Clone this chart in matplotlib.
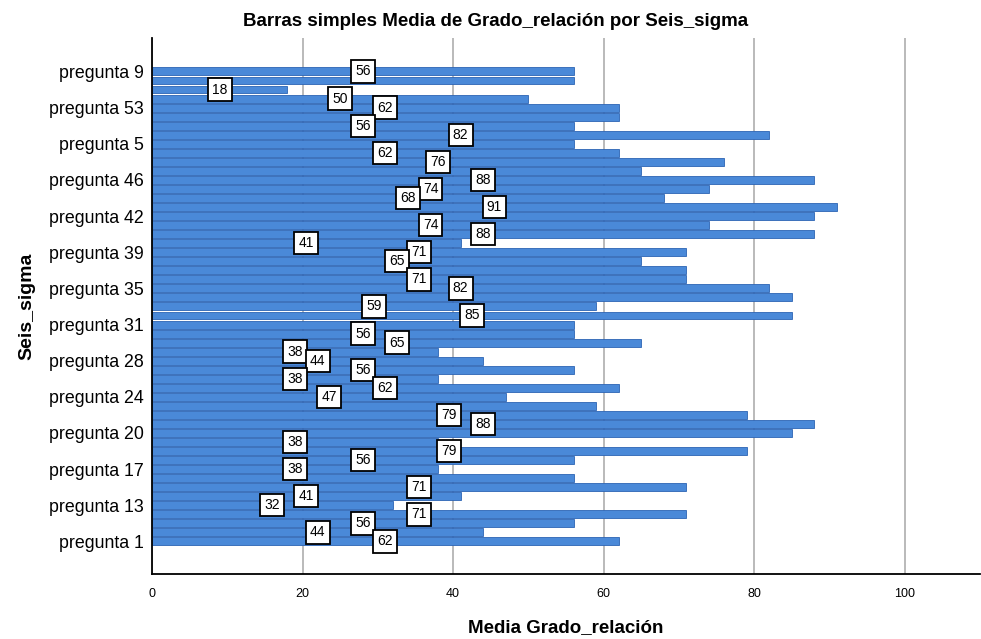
import matplotlib
matplotlib.use("Agg")
import matplotlib.pyplot as plt

plt.rcParams['font.family'] = ['Liberation Sans', 'DejaVu Sans']

# categorias de arriba hacia abajo (orden alfabetico de SPSS)
categorias = ["pregunta 9", "pregunta 8", "pregunta 7", "pregunta 6",
              "pregunta 53", "pregunta 52", "pregunta 51", "pregunta 50",
              "pregunta 5", "pregunta 49", "pregunta 48", "pregunta 47",
              "pregunta 46", "pregunta 45", "pregunta 44", "pregunta 43",
              "pregunta 42", "pregunta 41", "pregunta 40", "pregunta 4",
              "pregunta 39", "pregunta 38", "pregunta 37", "pregunta 36",
              "pregunta 35", "pregunta 34", "pregunta 33", "pregunta 32",
              "pregunta 31", "pregunta 30", "pregunta 3", "pregunta 29",
              "pregunta 28", "pregunta 27", "pregunta 26", "pregunta 25",
              "pregunta 24", "pregunta 23", "pregunta 22", "pregunta 21",
              "pregunta 20", "pregunta 2", "pregunta 19", "pregunta 18",
              "pregunta 17", "pregunta 16", "pregunta 15", "pregunta 14",
              "pregunta 13", "pregunta 12", "pregunta 11", "pregunta 10",
              "pregunta 1"]

medias = [56, 56, 18, 50, 62, 62, 56, 82, 56, 62, 76, 65, 88, 74, 68, 91,
          88, 74, 88, 41, 71, 65, 71, 71, 82, 85, 59, 85, 56, 56, 65, 38,
          44, 56, 38, 62, 47, 59, 79, 88, 85, 38, 79, 56, 38, 56, 71, 41,
          32, 71, 56, 44, 62]

# solo se rotula una de cada cuatro categorias en el eje
etiquetas_eje = ["pregunta 9", "pregunta 53", "pregunta 5", "pregunta 46",
                 "pregunta 42", "pregunta 39", "pregunta 35", "pregunta 31",
                 "pregunta 28", "pregunta 24", "pregunta 20", "pregunta 17",
                 "pregunta 13", "pregunta 1"]

x_ticks = [0, 20, 40, 60, 80, 100]

n = len(categorias)
pos = [n - 1 - i for i in range(n)]

fig = plt.figure(figsize=(9.81, 6.39), dpi=100)
ax = fig.add_axes([152 / 981, 1 - 574 / 639, 828 / 981, (574 - 38) / 639])

ax.barh(pos, medias, height=0.88, color='#4a89d8', edgecolor='#2c64b4',
        linewidth=0.6, zorder=2)

# etiquetas de valor en el centro de la barra, ocultando las que se solapan
mostradas = []
for p, v in zip(pos, medias):
    xc = v / 2
    choca = any(abs(xc - mx) < 2.5 and abs(p - mp) < 2.5 for mx, mp in mostradas)
    if choca:
        continue
    mostradas.append((xc, p))
    ax.text(xc, p, f"{v}", ha='center', va='center', fontsize=10, zorder=4,
            bbox=dict(boxstyle='square,pad=0.3', facecolor='white',
                      edgecolor='black', linewidth=1.3))

ax.set_xlim(0, 110)
ax.set_ylim(-3.6, 55.7)
ax.set_xticks(x_ticks)
ax.set_xticklabels([str(t) for t in x_ticks], fontsize=9)
ax.set_yticks([pos[categorias.index(c)] for c in etiquetas_eje])
ax.set_yticklabels(etiquetas_eje, fontsize=12.8)
ax.tick_params(axis='both', length=0)
ax.tick_params(axis='x', pad=10)
ax.tick_params(axis='y', pad=6)

ax.grid(axis='x', color='#b4b4b4', linewidth=1.3, zorder=1)
ax.set_axisbelow(True)
for s in ['top', 'right']:
    ax.spines[s].set_visible(False)
for s in ['left', 'bottom']:
    ax.spines[s].set_linewidth(1.3)

fig.text(496 / 981, 1 - 22 / 639,
         "Barras simples Media de Grado_relación por Seis_sigma",
         ha='center', va='center', fontsize=13.5, fontweight='bold')
ax.set_xlabel("Media Grado_relación", fontsize=13.5, fontweight='bold',
              labelpad=14)
ax.set_ylabel("Seis_sigma", fontsize=14, fontweight='bold', labelpad=10)

fig.savefig("out.png", dpi=100)
